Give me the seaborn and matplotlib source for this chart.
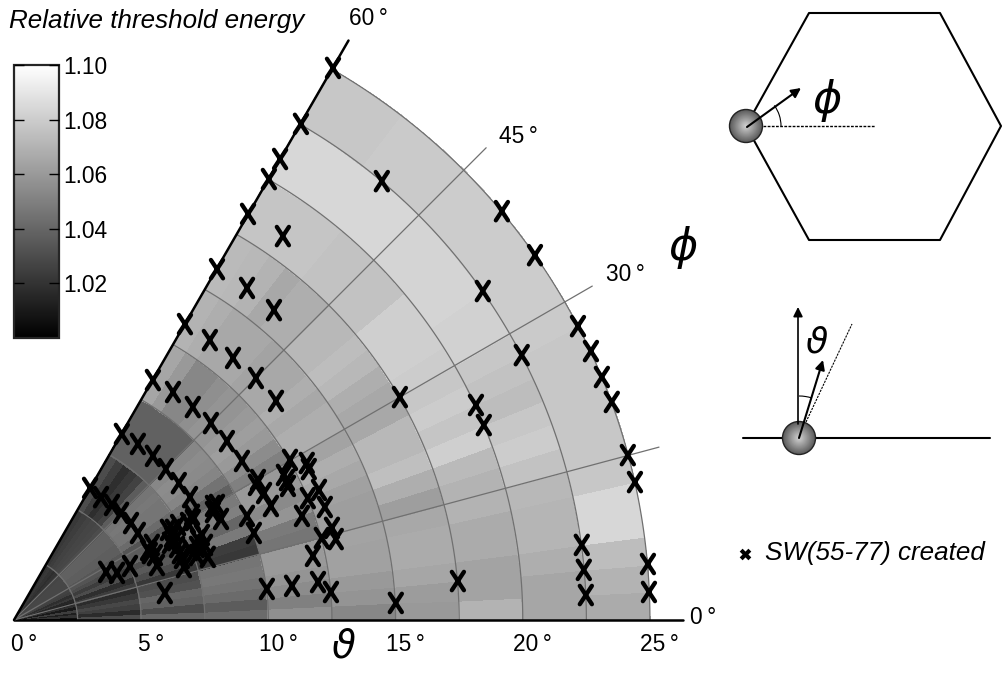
import numpy as np
import matplotlib
matplotlib.use('Agg')
import matplotlib.pyplot as plt
from matplotlib.path import Path
from matplotlib.patches import Circle, Arc
import seaborn as sns

sns.set_style('white')
plt.rcParams['font.family'] = ['Liberation Sans', 'DejaVu Sans']
plt.rcParams['text.color'] = 'black'
plt.rcParams['ytick.color'] = 'black'
plt.rcParams['ytick.labelcolor'] = 'black'

# threshold energy per ring, from phi=0 upwards in 2.5 degree steps
ring_00_02 = [1.006, 1.020, 1.012, 1.024, 1.010, 1.018, 1.012, 1.015, 1.022, 1.018, 1.025, 1.026,
              1.027, 1.028, 1.028, 1.028, 1.028, 1.027, 1.022, 1.020, 1.018, 1.020, 1.022, 1.020]
ring_02_05 = [1.030, 1.017, 1.025, 1.028, 1.022, 1.017, 1.024, 1.018, 1.030, 1.024, 1.030, 1.033,
              1.034, 1.037, 1.037, 1.038, 1.038, 1.038, 1.030, 1.028, 1.027, 1.026, 1.024, 1.022]
ring_05_07 = [1.040, 1.030, 1.038, 1.040, 1.032, 1.030, 1.022, 1.030, 1.035, 1.030, 1.040, 1.036,
              1.033, 1.042, 1.046, 1.046, 1.047, 1.046, 1.036, 1.026, 1.022, 1.018, 1.024, 1.030]
ring_07_10 = [1.042, 1.036, 1.042, 1.045, 1.047, 1.046, 1.022, 1.024, 1.048, 1.040, 1.050, 1.048,
              1.038, 1.045, 1.052, 1.054, 1.055, 1.053, 1.038, 1.038, 1.038, 1.038, 1.038, 1.038]
ring_10_12 = [1.056, 1.050, 1.055, 1.058, 1.060, 1.060, 1.046, 1.048, 1.058, 1.054, 1.060, 1.060,
              1.050, 1.055, 1.060, 1.062, 1.060, 1.058, 1.058, 1.056, 1.053, 1.053, 1.060, 1.065]
ring_12_15 = [1.053, 1.058, 1.060, 1.063, 1.063, 1.064, 1.062, 1.062, 1.063, 1.066, 1.068, 1.064,
              1.068, 1.068, 1.066, 1.068, 1.066, 1.066, 1.064, 1.066, 1.066, 1.066, 1.068, 1.070]
ring_15_17 = [1.060, 1.061, 1.065, 1.067, 1.067, 1.066, 1.062, 1.068, 1.075, 1.072, 1.072, 1.066,
              1.066, 1.068, 1.072, 1.074, 1.072, 1.072, 1.068, 1.068, 1.066, 1.070, 1.072, 1.073]
ring_17_20 = [1.070, 1.064, 1.064, 1.067, 1.067, 1.070, 1.070, 1.073, 1.081, 1.077, 1.080, 1.078,
              1.080, 1.081, 1.081, 1.081, 1.076, 1.076, 1.076, 1.076, 1.077, 1.077, 1.077, 1.077]
ring_20_22 = [1.065, 1.065, 1.068, 1.071, 1.071, 1.072, 1.076, 1.080, 1.078, 1.074, 1.076, 1.078,
              1.082, 1.082, 1.083, 1.083, 1.083, 1.083, 1.084, 1.084, 1.084, 1.084, 1.084, 1.084]
ring_22_25 = [1.067, 1.070, 1.074, 1.084, 1.084, 1.078, 1.078, 1.078, 1.078, 1.078, 1.078, 1.079,
              1.080, 1.080, 1.080, 1.080, 1.080, 1.080, 1.079, 1.079, 1.079, 1.078, 1.078, 1.078]

# SW(55-77) created, tilt components theta*cos(phi), theta*sin(phi) in degrees
created_x = [12.54, 11.28, 10.46, 10.02, 9.20, 10.57, 7.98, 9.16, 10.22, 6.72, 7.70, 8.61, 9.51, 5.46, 6.25, 7.03,
             7.74, 8.37, 8.96, 10.30, 14.46, 19.18, 20.48, 18.43, 22.17, 22.68, 23.11, 23.50, 19.96, 15.17, 18.16,
             18.47, 24.13, 24.41, 22.32, 22.40, 22.48, 24.92, 24.96, 17.45, 15.01, 4.24, 4.87, 5.46, 5.97, 6.48,
             6.92, 2.99, 3.42, 3.85, 4.21, 4.60, 4.87, 10.85, 11.51, 11.59, 9.59, 9.51, 9.83, 10.10, 10.61, 10.73,
             10.77, 11.99, 11.55, 12.22, 11.32, 9.16, 9.43, 12.50, 12.10, 12.65, 11.75, 7.82, 7.98, 7.82, 8.14,
             7.00, 7.03, 6.84, 6.05, 6.45, 6.25, 6.21, 6.33, 6.13, 6.41, 7.39, 7.23, 7.51, 7.19, 7.62, 7.19, 6.52,
             6.60, 6.68, 6.92, 5.42, 5.27, 5.34, 5.54, 5.62, 4.56, 4.05, 3.62, 5.93, 9.94, 10.93, 11.95, 12.46]
created_y = [21.70, 19.50, 18.12, 17.33, 15.96, 15.09, 13.79, 13.05, 12.18, 11.63, 11.00, 10.30, 9.51, 9.43, 8.96,
             8.37, 7.74, 7.03, 6.25, 8.61, 17.25, 16.07, 14.34, 12.93, 11.55, 10.57, 9.55, 8.57, 10.41, 8.76, 8.45,
             7.66, 6.48, 5.42, 2.95, 1.97, 0.98, 2.20, 1.10, 1.53, 0.67, 7.31, 6.92, 6.45, 5.93, 5.38, 4.83, 5.19,
             4.83, 4.52, 4.21, 3.81, 3.42, 6.29, 6.17, 5.93, 5.50, 5.31, 4.99, 4.48, 5.70, 5.50, 5.27, 5.11, 4.79,
             4.44, 4.09, 4.09, 3.42, 3.62, 3.22, 3.18, 2.52, 4.48, 4.52, 4.24, 3.97, 4.13, 3.93, 3.81, 3.54, 3.73,
             3.54, 3.26, 3.14, 3.03, 2.87, 3.34, 3.14, 2.95, 2.87, 2.48, 2.55, 2.63, 2.44, 2.08, 2.75, 2.95, 2.75,
             2.63, 2.55, 2.16, 2.12, 1.85, 1.89, 1.06, 1.22, 1.34, 1.49, 1.10]

theta_ticks = [0, 5, 10, 15, 20, 25]
phi_ticks = [0, 15, 30, 45, 60]
bar_ticks = [1.02, 1.04, 1.06, 1.08, 1.10]

energy = np.array([ring_00_02, ring_02_05, ring_05_07, ring_07_10, ring_10_12,
                   ring_12_15, ring_15_17, ring_17_20, ring_20_22, ring_22_25])
theta_edges = np.arange(0, 25.1, 2.5)
phi_edges = np.arange(0, 60.1, 2.5)

fig = plt.figure(figsize=(10.02, 6.94), dpi=100)
ax = fig.add_axes([0, 0, 1, 1])
ax.set_xlim(-0.55, 38.84)
ax.set_ylim(-2.91, 24.37)
ax.axis('off')

# wedge
tt, pp = np.meshgrid(theta_edges, np.radians(phi_edges), indexing='ij')
mesh = ax.pcolormesh(tt * np.cos(pp), tt * np.sin(pp), energy, cmap='gray', vmin=1.0, vmax=1.1,
                     shading='flat', edgecolor='face', linewidth=0.2)

# rings and spokes
arc = np.radians(np.linspace(0, 60, 121))
for r in theta_edges[1:]:
    ax.plot(r * np.cos(arc), r * np.sin(arc), color='#707070', lw=0.9)
for p in phi_ticks:
    a = np.radians(p)
    if p in (0, 60):
        ax.plot([0, 26.3 * np.cos(a)], [0, 26.3 * np.sin(a)], color='black', lw=1.8)
    else:
        ax.plot([0, 26.25 * np.cos(a)], [0, 26.25 * np.sin(a)], color='#707070', lw=0.9)

cross = Path([(-0.33, -0.5), (0.33, 0.5), (-0.33, 0.5), (0.33, -0.5)],
             [Path.MOVETO, Path.LINETO, Path.MOVETO, Path.LINETO])
sns.scatterplot(x=created_x, y=created_y, marker=cross, s=175, facecolor='none', edgecolor='black',
                linewidth=3.1, capstyle='round', ax=ax, legend=False, zorder=5)
ax.set_xlim(-0.55, 38.84)
ax.set_ylim(-2.91, 24.37)
ax.axis('off')

for t in theta_ticks:
    ax.text(t + 0.38, -0.95, f'{t}\u2009\u00b0', fontsize=16.4, ha='center', va='center')

# colorbar
cax = fig.add_axes([14 / 1002, 1 - 338 / 694, 45 / 1002, 273 / 694])
cb = fig.colorbar(mesh, cax=cax, ticks=bar_ticks, format='%.2f')
cb.ax.set_axisbelow(False)
cb.ax.yaxis.set_ticks_position('both')
cb.ax.yaxis.set_label_position('right')
cb.ax.tick_params(direction='in', length=7.5, width=1.0, labelsize=16.4, pad=3, left=True, right=True,
                  labelleft=False, labelright=True)
cb.outline.set_linewidth(1.6)

# overlay in pixels for text and the two sketches
ov = fig.add_axes([0, 0, 1, 1], zorder=10)
ov.set_xlim(0, 1002)
ov.set_ylim(694, 0)
ov.axis('off')
ov.patch.set_alpha(0)

ov.text(9, 21, 'Relative threshold energy', fontsize=18.7, style='italic', ha='left', va='center')
ov.text(349, 18, '60\u2009\u00b0', fontsize=16.4, ha='left', va='center')
ov.text(499, 136, '45\u2009\u00b0', fontsize=16.4, ha='left', va='center')
ov.text(606, 274, '30\u2009\u00b0', fontsize=16.4, ha='left', va='center')
ov.text(690, 617, '0\u2009\u00b0', fontsize=16.4, ha='left', va='center')
sym_font = ['DejaVu Sans']
ov.text(683, 247, '\u03d5', fontsize=32, style='italic', family=sym_font, ha='center', va='center')
ov.text(343, 646, '\u03d1', fontsize=28, style='italic', family=sym_font, ha='center', va='center')


def ball(cx, cy):
    for i, r in enumerate(np.linspace(16.5, 1, 16)):
        ov.add_patch(Circle((cx, cy), r, color=str(0.36 + i * 0.03), lw=0, zorder=3))
    ov.add_patch(Circle((cx, cy), 16.5, fill=False, ec='#222222', lw=1.0, zorder=3))


# hexagon sketch
ov.plot([746, 809, 940, 1001, 940, 809, 746], [126, 13, 13, 126, 240, 240, 126], color='black', lw=1.5, zorder=2)
ball(746, 126)
ov.plot([763, 875], [126, 126], color='black', lw=1.0, ls=(0, (2, 1)), zorder=4)
ov.annotate('', xy=(801, 88), xytext=(747, 127), arrowprops=dict(arrowstyle='-|>', color='black', lw=1.5,
                                                                 shrinkA=0, shrinkB=0, mutation_scale=14), zorder=5)
ov.add_patch(Arc((746, 126), 70, 70, theta1=-36, theta2=0, color='black', lw=0.8, zorder=4))
ov.text(827, 100, '\u03d5', fontsize=32, style='italic', family=sym_font, ha='center', va='center')

# tilt sketch
ov.plot([743, 990], [438, 438], color='black', lw=1.5, zorder=2)
ov.annotate('', xy=(798, 307), xytext=(798, 424), arrowprops=dict(arrowstyle='-|>', color='black', lw=1.2,
                                                                  shrinkA=0, shrinkB=0, mutation_scale=14), zorder=5)
ball(799, 438)
ov.annotate('', xy=(823, 360), xytext=(799, 438), arrowprops=dict(arrowstyle='-|>', color='black', lw=1.5,
                                                                  shrinkA=0, shrinkB=0, mutation_scale=14), zorder=5)
ov.plot([806, 852], [422, 324], color='black', lw=0.8, ls=(0, (2, 1)), zorder=4)
ov.add_patch(Arc((799, 438), 84, 84, theta1=-90, theta2=-72, color='black', lw=0.8, zorder=4))
ov.text(817, 342, '\u03d1', fontsize=26, style='italic', family=sym_font, ha='center', va='center')

# legend
ov.scatter([745], [554], marker='X', s=70, color='black', linewidths=0)
ov.text(765, 553, 'SW(55-77) created', fontsize=18.7, style='italic', ha='left', va='center')

fig.savefig('out.png', dpi=100)
